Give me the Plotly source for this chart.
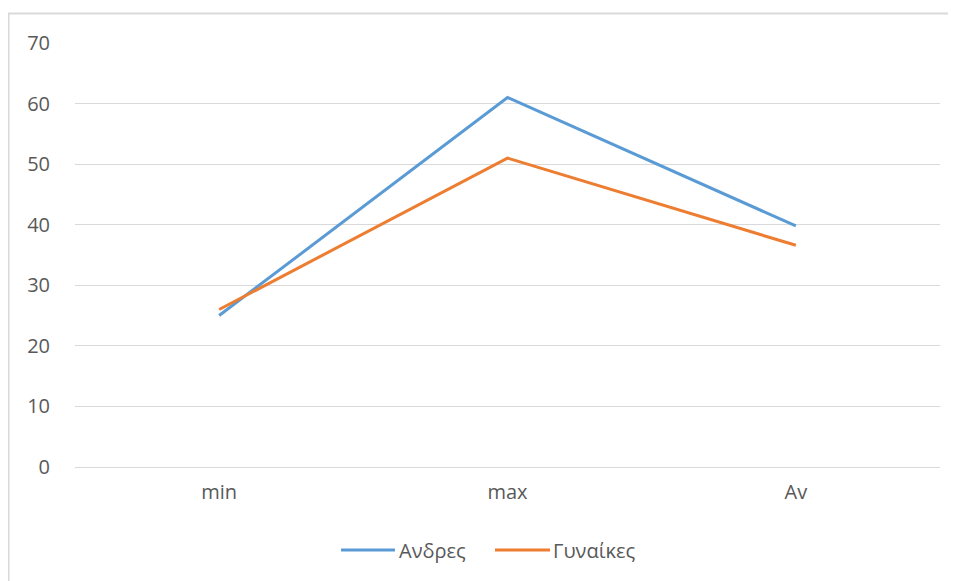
import plotly.graph_objects as go

categories = ["min", "max", "Av"]
andres = [25, 61, 39.8]
gynaikes = [26, 51, 36.6]
series_names = ["Ανδρες", "Γυναίκες"]
colors = ["#5B9BD5", "#ED7D31"]

# page is offset 8px by default body margin
W, H = 948, 573
L, R, T, B = 67, 16, 35, 114
pw, ph = W - L - R, H - T - B

def px(fx):
    return (fx - L) / pw

def py(fy):
    return (T + ph - fy) / ph

fig = go.Figure()
for name, vals, c in zip(series_names, [andres, gynaikes], colors):
    fig.add_trace(go.Scatter(x=categories, y=vals, mode="lines", name=name,
                             line=dict(color=c, width=3), showlegend=False))

font_family = "Open Sans, Noto Sans, sans-serif"
grey = "#595959"
fsize = 20

shapes = [
    dict(type="line", xref="paper", yref="paper", x0=px(0.5), x1=px(0.5), y0=py(5), y1=py(H + 5),
         line=dict(color="#D9D9D9", width=2)),
    dict(type="line", xref="paper", yref="paper", x0=px(0), x1=px(W + 10), y0=py(5.5), y1=py(5.5),
         line=dict(color="#D9D9D9", width=2)),
]
annotations = []
# custom legend (page coords minus 8)
legend_items = [(333, 387, 389), (487, 542, 543)]
for (lx0, lx1, tx), name, c in zip(legend_items, series_names, colors):
    shapes.append(dict(type="line", xref="paper", yref="paper", x0=px(lx0), x1=px(lx1),
                       y0=py(542), y1=py(542), line=dict(color=c, width=3)))
    annotations.append(dict(xref="paper", yref="paper", x=px(tx), y=py(542), text=name,
                            showarrow=False, xanchor="left", yanchor="middle",
                            font=dict(size=fsize, color=grey, family=font_family)))

fig.update_layout(
    width=W, height=H,
    margin=dict(l=L, r=R, t=T, b=B),
    paper_bgcolor="white", plot_bgcolor="white",
    font=dict(family=font_family, size=fsize, color=grey),
    showlegend=False,
    xaxis=dict(range=[-0.5, 2.5], showgrid=False, showline=False, ticks="",
               ticklabelstandoff=11, tickfont=dict(size=fsize, color=grey)),
    yaxis=dict(range=[0, 70], dtick=10, showgrid=True, gridcolor="#D9D9D9", gridwidth=1,
               zeroline=True, zerolinecolor="#D9D9D9", zerolinewidth=1,
               showline=False, ticks="", ticklabelstandoff=24,
               tickfont=dict(size=fsize, color=grey)),
    shapes=shapes,
    annotations=annotations,
)

fig.write_html("out.html")
